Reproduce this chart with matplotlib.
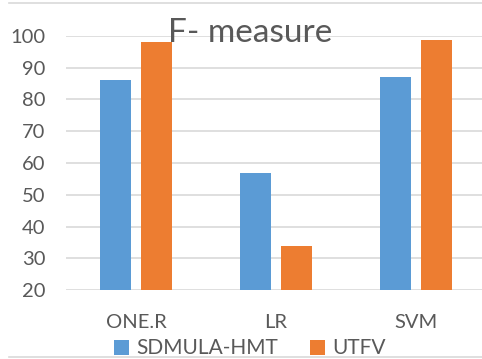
import matplotlib.pyplot as plt
import numpy as np
from matplotlib.lines import Line2D

plt.rcParams['font.family'] = ['Lato', 'DejaVu Sans']

categories = ['ONE.R', 'LR', 'SVM']
sdmula_hmt = [86, 57, 87]
utfv = [98, 34, 98.6]

blue = '#5b9bd5'
orange = '#ed7d31'
txt = '#595959'

fig = plt.figure(figsize=(4.82, 3.59), dpi=100)
ax = fig.add_axes([66 / 482, 69 / 359, 420 / 482, 254 / 359])

x = np.arange(len(categories))
w = 0.221
ax.bar(x - 0.144, np.array(sdmula_hmt) - 20, w, bottom=20, color=blue, label='SDMULA-HMT', zorder=3)
ax.bar(x + 0.144, np.array(utfv) - 20, w, bottom=20, color=orange, label='UTFV', zorder=3)

ax.set_xlim(-0.5, 2.5)
ax.set_ylim(20, 100)
ax.set_yticks(range(20, 101, 10))
ax.set_xticks(x)
ax.set_xticklabels(categories)
ax.tick_params(axis='both', length=0, labelsize=14.5, colors=txt)
ax.tick_params(axis='x', pad=17)
ax.tick_params(axis='y', pad=15)
ax.grid(axis='y', color='#d9d9d9', linewidth=1.2, zorder=0)
for s in ax.spines.values():
    s.set_visible(False)

fig.text(250 / 482, 1 - 33 / 359, 'F- measure', ha='center', va='center', fontsize=24, color=txt, zorder=5)

fig.legend(loc='center', bbox_to_anchor=(250 / 482, 1 - 348.5 / 359), ncol=2, frameon=False,
           fontsize=15, labelcolor=txt, handlelength=0.75, handleheight=0.75,
           handletextpad=0.35, columnspacing=1.5, borderpad=0)

fig.add_artist(Line2D([9 / 482, 1], [1 - 3 / 359] * 2, color='#d9d9d9', linewidth=1.2))
fig.add_artist(Line2D([9 / 482, 1], [1 - 357 / 359] * 2, color='#d9d9d9', linewidth=1.2))

fig.savefig('out.png', dpi=100)
